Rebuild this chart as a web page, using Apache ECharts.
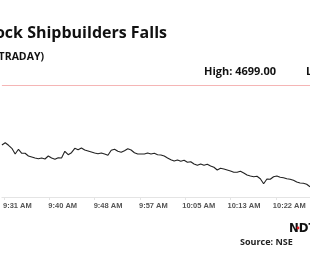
<!DOCTYPE html>
<html>
<head>
<meta charset="utf-8">
<script src="https://cdn.jsdelivr.net/npm/echarts@6/dist/echarts.min.js"></script>
<style>html,body{margin:0;padding:0;background:#fff}#c{width:310px;height:280px}</style>
</head>
<body>
<div id="c"></div>
<script>
var titleText = "Mazagon Dock Shipbuilders Falls";
var subtitleText = "(INTRADAY)";
var highValue = 4699.00;
var lowLabel = "Low: 4597.30";
var sourceText = "Source: NSE";

// sampling of the intraday line (minutes since midnight)
var startMinute = 570.63;
var stepMinute = 0.6213;

var prices = [
4639.0,4641.3,4638.7,4635.7,4630.0,4634.7,4630.7,4630.7,4628.0,4627.0,
4626.0,4625.3,4626.0,4625.0,4628.0,4626.0,4624.7,4626.3,4626.0,4632.7,
4629.3,4631.3,4635.7,4634.3,4636.0,4634.0,4633.0,4632.0,4631.0,4630.3,
4631.0,4630.0,4628.7,4633.7,4634.7,4632.7,4631.7,4633.3,4635.3,4634.0,
4631.3,4630.0,4630.0,4630.0,4631.0,4630.0,4630.7,4629.3,4629.0,4628.0,
4626.0,4624.3,4623.0,4624.0,4622.7,4623.7,4621.7,4622.3,4620.0,4618.7,
4620.0,4618.7,4619.7,4618.0,4616.7,4614.0,4615.7,4615.0,4614.0,4613.0,
4611.7,4611.7,4612.7,4611.0,4609.0,4608.0,4607.3,4607.7,4605.3,4600.3,
4605.0,4604.7,4607.3,4608.0,4606.7,4606.3,4605.3,4604.7,4603.7,4602.0,
4601.0,4600.7,4599.7,4597.3
];

var tickMinutes = [571, 579.5, 588, 596.5, 605, 613.5, 622];
var tickLabels = ["9:31 AM", "9:40 AM", "9:48 AM", "9:57 AM", "10:05 AM", "10:13 AM", "10:22 AM"];

var seriesData = prices.map(function (p, i) { return [startMinute + i * stepMinute, p]; });
var xMax = startMinute + (prices.length - 1) * stepMinute;

var chart = echarts.init(document.getElementById('c'), null, { renderer: 'canvas' });
chart.setOption({
  animation: false,
  backgroundColor: '#ffffff',
  grid: { left: 0, right: 0, top: 85, bottom: 83 },
  xAxis: {
    type: 'value',
    min: startMinute,
    max: xMax,
    axisLine: { show: true, lineStyle: { color: '#e4e4e4', width: 1 } },
    axisTick: { show: true, customValues: tickMinutes, length: 3, lineStyle: { color: '#e4e4e4' } },
    axisLabel: {
      customValues: tickMinutes,
      formatter: function (v) {
        var best = 0, d = 1e9;
        for (var i = 0; i < tickMinutes.length; i++) {
          var dd = Math.abs(tickMinutes[i] - v);
          if (dd < d) { d = dd; best = i; }
        }
        return tickLabels[best];
      },
      color: '#555',
      fontSize: 7.5,
      fontWeight: 'bold',
      fontFamily: 'Liberation Sans, Arial, sans-serif',
      margin: 5,
      padding: [0, 0, 0, 27]
    },
    splitLine: { show: false }
  },
  yAxis: {
    type: 'value',
    min: 4587,
    max: highValue,
    show: false,
    splitLine: { show: false }
  },
  series: [{
    type: 'line',
    data: seriesData,
    symbol: 'none',
    clip: false,
    lineStyle: { color: '#222', width: 1.1 },
    markLine: {
      silent: true,
      symbol: ['none', 'none'],
      label: { show: false },
      lineStyle: { color: '#f5b5b5', type: 'solid', width: 1 },
      data: [{ yAxis: highValue }]
    }
  }],
  graphic: [
    { type: 'text', x: 167, y: 33.5, style: { text: titleText, align: 'right', verticalAlign: 'middle', font: 'bold 16px "Open Sans", sans-serif', fill: '#111' } },
    { type: 'text', x: 44, y: 57, style: { text: subtitleText, align: 'right', verticalAlign: 'middle', font: 'bold 10.5px "Open Sans", sans-serif', fill: '#111' } },
    { type: 'text', x: 204, y: 71.5, style: { text: 'High: ' + highValue.toFixed(2), align: 'left', verticalAlign: 'middle', font: 'bold 11px "Open Sans", sans-serif', fill: '#111' } },
    { type: 'text', x: 306, y: 71.5, style: { text: lowLabel, align: 'left', verticalAlign: 'middle', font: 'bold 11px "Open Sans", sans-serif', fill: '#111' } },
    { type: 'text', x: 240, y: 242, style: { text: sourceText, align: 'left', verticalAlign: 'middle', font: 'bold 9px "Open Sans", sans-serif', fill: '#222' } },
    { type: 'text', x: 289, y: 229, style: { text: 'NDTV', align: 'left', verticalAlign: 'middle', font: 'bold 13px "DejaVu Sans Condensed", "DejaVu Sans", sans-serif', fill: '#111' } },
    { type: 'circle', shape: { cx: 298, cy: 228, r: 1.4 }, style: { fill: '#e31b23' } }
  ]
});
</script>
</body>
</html>
